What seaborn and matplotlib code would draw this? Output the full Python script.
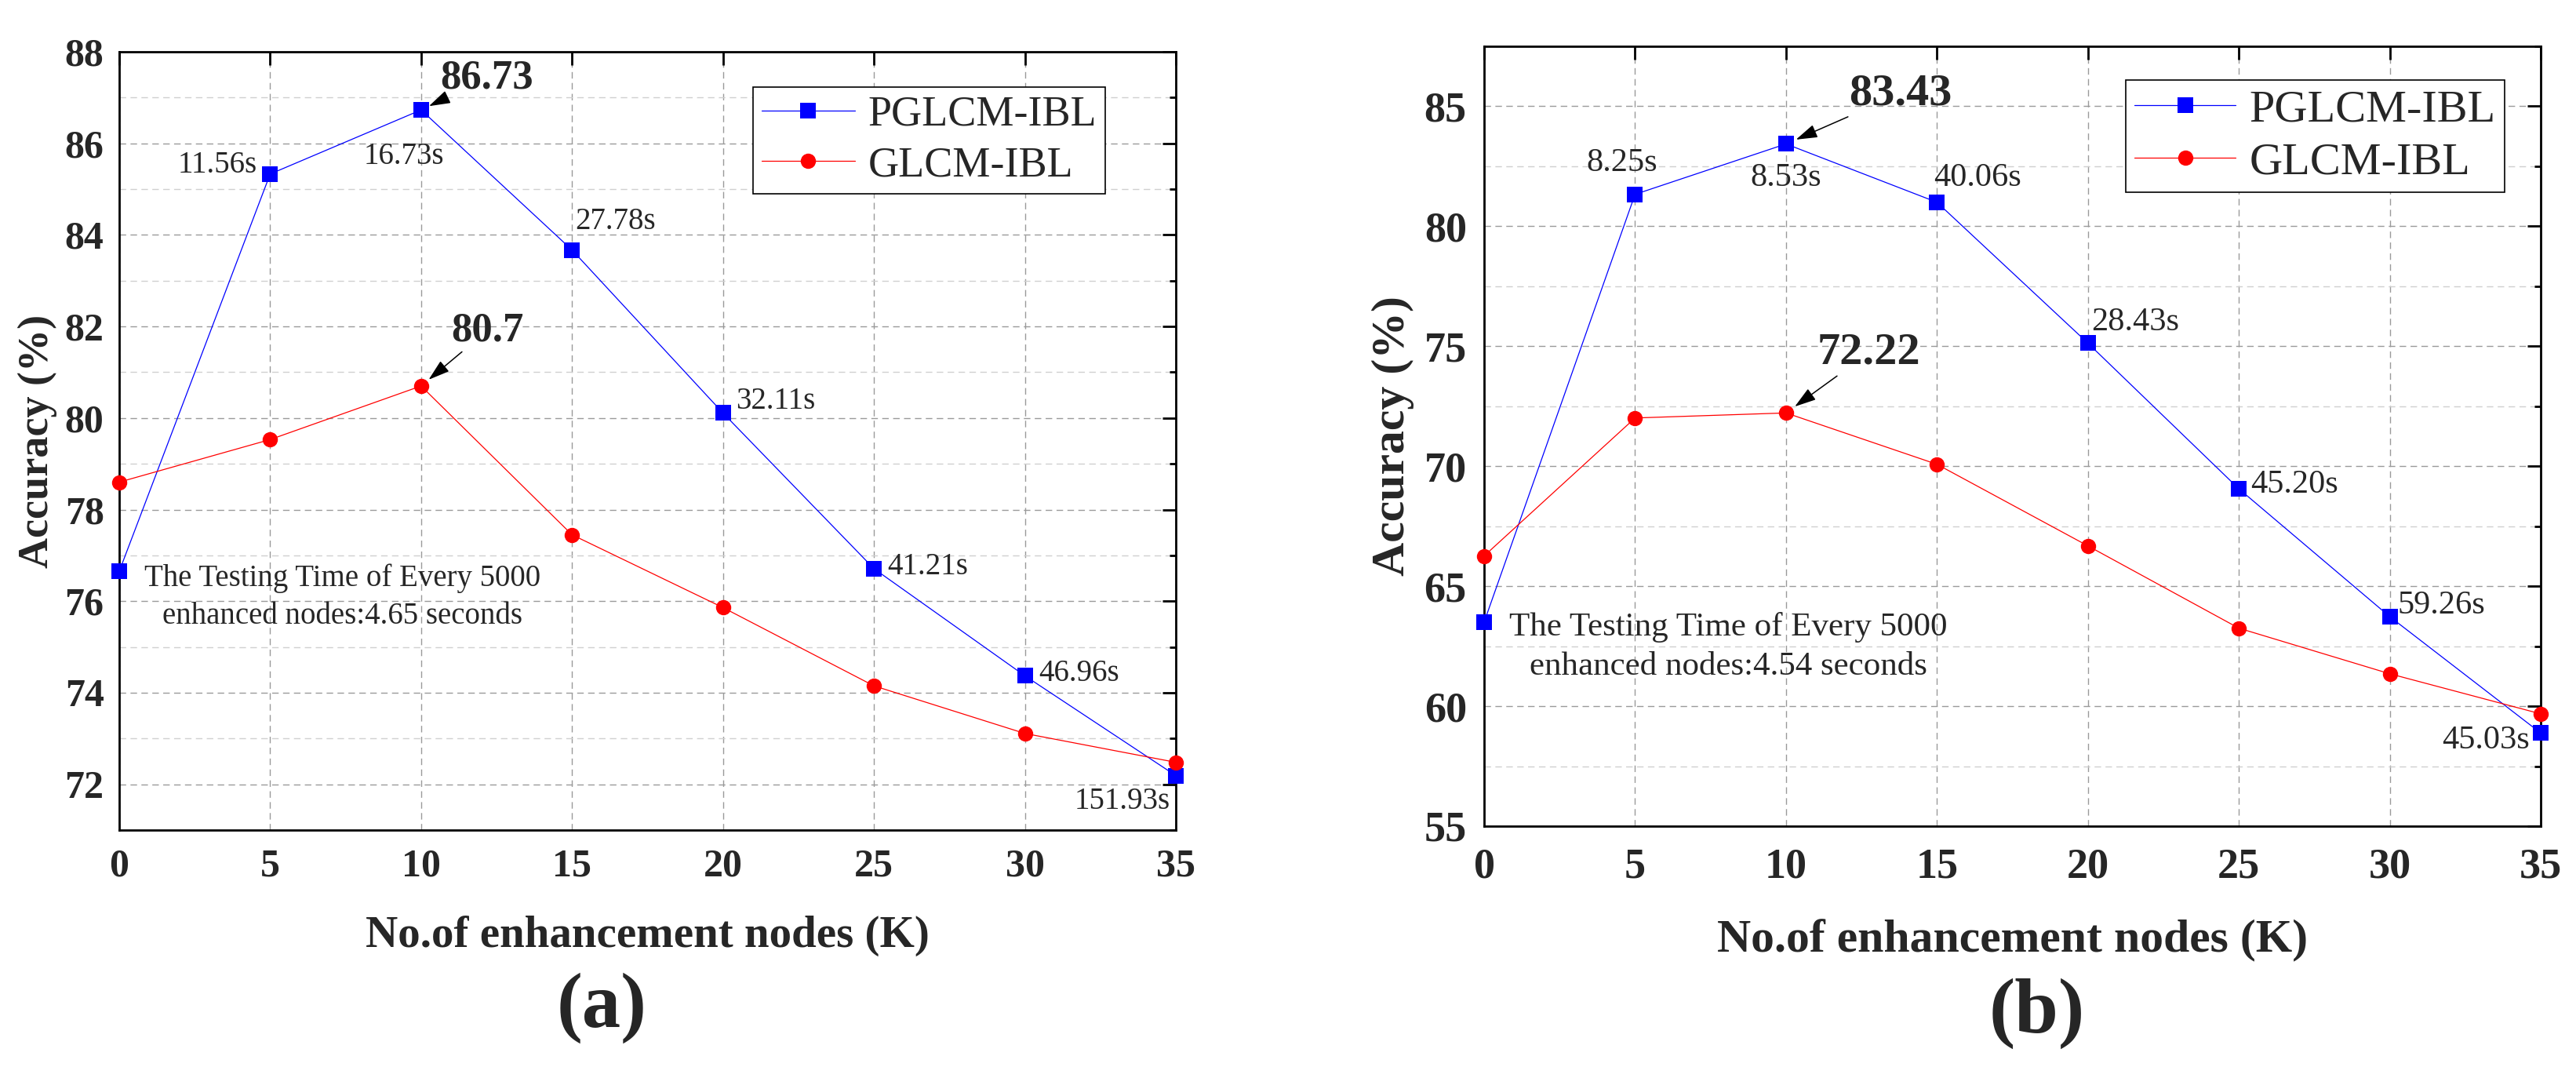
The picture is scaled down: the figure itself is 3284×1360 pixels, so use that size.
import matplotlib
matplotlib.use("Agg")
import pandas as pd
import matplotlib.pyplot as plt
import seaborn as sns
from matplotlib.ticker import MultipleLocator

sns.set_style("white")
plt.rcParams["font.family"] = ["Liberation Serif", "DejaVu Serif"]

# datos
nodes = [0, 5, 10, 15, 20, 25, 30, 35]
methods = ["PGLCM-IBL", "GLCM-IBL"]

acc_pglcm_a = [76.65, 85.33, 86.73, 83.67, 80.11, 76.71, 74.37, 72.19]
acc_glcm_a = [78.60, 79.53, 80.70, 77.45, 75.86, 74.15, 73.11, 72.48]
times_a = ["", "11.56s", "16.73s", "27.78s", "32.11s", "41.21s", "46.96s", "151.93s"]
note_a = "The Testing Time of Every 5000\nenhanced nodes:4.65 seconds"

acc_pglcm_b = [63.50, 81.33, 83.43, 81.00, 75.13, 69.06, 63.73, 58.88]
acc_glcm_b = [66.26, 72.01, 72.22, 70.08, 66.68, 63.25, 61.35, 59.68]
times_b = ["", "8.25s", "8.53s", "40.06s", "28.43s", "45.20s", "59.26s", "45.03s"]
note_b = "The Testing Time of Every 5000\nenhanced nodes:4.54 seconds"

# desplazamientos de las etiquetas de tiempo (puntos, ha)
offs_a = [None, (-12, 8, "right"), (-16, -43, "center"), (3, 26, "left"), (12, 11, "left"),
          (12, 1.5, "left"), (13, 2, "left"), (-5, -24, "right")]
offs_b = [None, (-12, 29, "center"), (0, -31.5, "center"), (-3, 22, "left"), (3, 19, "left"),
          (11, 4, "left"), (7, 10.6, "left"), (-10, -7, "right")]

BLUE = "#0000FF"
RED = "#FF0000"


def draw_panel(ax, pglcm, glcm, times, offs, note, cfg):
    df = pd.DataFrame({
        "K": nodes * 2,
        "acc": pglcm + glcm,
        "method": [methods[0]] * len(nodes) + [methods[1]] * len(nodes),
    })
    sns.lineplot(data=df, x="K", y="acc", hue="method", style="method",
                 hue_order=methods, style_order=methods,
                 palette={methods[0]: BLUE, methods[1]: RED},
                 markers={methods[0]: "s", methods[1]: "o"}, dashes=False,
                 markersize=14, linewidth=0.9, markeredgewidth=0,
                 clip_on=False, ax=ax, zorder=3)

    s = cfg["s"]
    ax.set_xlim(0, 35)
    ax.set_ylim(*cfg["ylim"])
    ax.xaxis.set_major_locator(MultipleLocator(5))
    ax.yaxis.set_major_locator(MultipleLocator(cfg["ymaj"]))
    ax.yaxis.set_minor_locator(MultipleLocator(cfg["ymaj"] / 2))

    ax.set_axisbelow(True)
    ax.grid(True, which="major", axis="both", color="#9a9a9a", linestyle=(0, (6, 4)), linewidth=1)
    ax.grid(True, which="minor", axis="y", color="#d0d0d0", linestyle=(0, (6, 4)), linewidth=1)

    for sp in ax.spines.values():
        sp.set_linewidth(2)
        sp.set_color("black")
    ax.tick_params(which="both", direction="in", top=True, right=True, width=2, color="black")
    ax.tick_params(which="major", length=12)
    ax.tick_params(which="minor", length=6)
    ax.tick_params(axis="y", pad=cfg["ypad"])
    ax.tick_params(axis="x", pad=cfg["xpad"])
    for lab in ax.get_xticklabels() + ax.get_yticklabels():
        lab.set_fontsize(cfg["tick"])
        lab.set_fontweight("bold")

    ax.set_xlabel("No.of enhancement nodes (K)", fontsize=cfg["xlab"], fontweight="bold", va="center")
    ax.set_ylabel("Accuracy (%)", fontsize=cfg["ylab"], fontweight="bold", va="center")
    ax.xaxis.set_label_coords(0.5, cfg["xlab_y"])
    ax.yaxis.set_label_coords(cfg["ylab_x"], 0.5)

    # tiempos de prueba
    for i, t in enumerate(times):
        if not t:
            continue
        dx, dy, ha = offs[i]
        ax.annotate(t, xy=(nodes[i], pglcm[i]), xytext=(dx, dy), textcoords="offset points",
                    ha=ha, va="center", fontsize=cfg["ann"], zorder=5)

    # máximos con flecha
    for series, (dx, dy), shrink in [(pglcm, cfg["peak_p"], cfg["shrink_p"]),
                                     (glcm, cfg["peak_g"], cfg["shrink_g"])]:
        i = series.index(max(series))
        ax.annotate(f"{series[i]:g}", xy=(nodes[i], series[i]), xytext=(dx, dy),
                    textcoords="offset points", ha="center", va="center",
                    fontsize=cfg["peak"], fontweight="bold", zorder=5,
                    arrowprops=dict(arrowstyle="-|>,head_length=0.7,head_width=0.22",
                                    color="black", lw=1.1, mutation_scale=24,
                                    shrinkA=0, shrinkB=shrink))

    ax.text(cfg["note_xy"][0], cfg["note_xy"][1], note, transform=ax.transAxes,
            ha="center", va="center", fontsize=cfg["note"], linespacing=1.4, zorder=5)

    handles, labels = ax.get_legend_handles_labels()
    leg = ax.legend(handles, labels, loc="upper right", bbox_to_anchor=cfg["leg_anchor"],
                    borderaxespad=0, fontsize=cfg["leg"], frameon=True, fancybox=False,
                    framealpha=1, edgecolor="black", borderpad=0.2, labelspacing=0.25,
                    handlelength=2.2, handletextpad=0.3)
    leg.get_frame().set_linewidth(1.2)

    ax.text(cfg["tag_xy"][0], cfg["tag_xy"][1], cfg["tag"], transform=ax.transAxes,
            ha="center", va="center", fontsize=cfg["tagsize"], fontweight="bold")


fig = plt.figure(figsize=(32.84, 13.6), dpi=100)
ax_a = fig.add_axes([0.04628, 0.22206, 0.41017, 0.72941])
ax_b = fig.add_axes([0.57613, 0.22574, 0.41017, 0.73088])

cfg_a = dict(s=1.0, ylim=(71, 88), ymaj=2, tick=36, ypad=14, xpad=17, xlab=41, ylab=39,
             xlab_y=-0.136, ylab_x=-0.077, ann=28, peak=38, peak_p=(60, 29), peak_g=(61, 51),
             shrink_p=8, shrink_g=9, note=28, note_xy=(0.211, 0.2994), leg=39,
             leg_anchor=(0.933, 0.955), tag="(a)", tag_xy=(0.4566, -0.229), tagsize=71)
cfg_b = dict(s=1.1, ylim=(55, 87.5), ymaj=5, tick=39, ypad=16, xpad=19.5, xlab=43, ylab=43,
             xlab_y=-0.147, ylab_x=-0.086, ann=30.5, peak=42, peak_p=(105, 46), peak_g=(76, 55),
             shrink_p=10, shrink_g=10, note=31, note_xy=(0.2314, 0.2302), leg=42,
             leg_anchor=(0.966, 0.957), tag="(b)", tag_xy=(0.5234, -0.2404), tagsize=72)

draw_panel(ax_a, acc_pglcm_a, acc_glcm_a, times_a, offs_a, note_a, cfg_a)
draw_panel(ax_b, acc_pglcm_b, acc_glcm_b, times_b, offs_b, note_b, cfg_b)

fig.savefig("out.png", dpi=100, facecolor="white")
plt.close(fig)
